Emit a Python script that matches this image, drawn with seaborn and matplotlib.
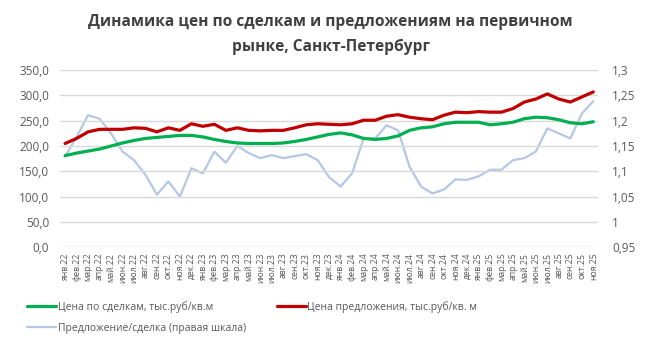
import pandas as pd
import matplotlib.pyplot as plt
import matplotlib.ticker as mticker
import seaborn as sns

months = ['янв.22', 'фев.22', 'мар.22', 'апр.22', 'май.22', 'июн.22', 'июл.22', 'авг.22',
          'сен.22', 'окт.22', 'ноя.22', 'дек.22', 'янв.23', 'фев.23', 'мар.23', 'апр.23',
          'май.23', 'июн.23', 'июл.23', 'авг.23', 'сен.23', 'окт.23', 'ноя.23', 'дек.23',
          'янв.24', 'фев.24', 'мар.24', 'апр.24', 'май.24', 'июн.24', 'июл.24', 'авг.24',
          'сен.24', 'окт.24', 'ноя.24', 'дек.24', 'янв.25', 'фев.25', 'мар.25', 'апр.25',
          'май.25', 'июн.25', 'июл.25', 'авг.25', 'сен.25', 'окт.25', 'ноя.25']

# тыс. руб/кв. м
deal_price = [181, 186, 190, 194, 200, 206, 211, 215, 217, 219, 221, 221, 218, 213, 209, 206,
              205, 205, 205, 206, 209, 213, 218, 223, 226, 222, 215, 213, 215, 220, 231, 236,
              238, 244, 247, 247, 247, 242, 244, 247, 254, 257, 256, 252, 246, 244, 248]
offer_price = [205, 215, 228, 233, 233, 233, 236, 235, 228, 236, 231, 244, 239, 243, 231, 236,
               231, 230, 231, 231, 236, 242, 244, 243, 242, 244, 251, 251, 259, 262, 257, 254,
               252, 261, 267, 266, 268, 267, 267, 274, 287, 293, 303, 293, 287, 297, 307]
# предложение/сделка (правая шкала)
ratio = [1.129, 1.168, 1.211, 1.204, 1.175, 1.139, 1.122, 1.093, 1.054, 1.080, 1.050, 1.106,
         1.096, 1.139, 1.117, 1.150, 1.136, 1.126, 1.132, 1.126, 1.130, 1.134, 1.122, 1.088,
         1.070, 1.096, 1.165, 1.165, 1.191, 1.181, 1.109, 1.070, 1.056, 1.064, 1.084, 1.083,
         1.090, 1.103, 1.103, 1.122, 1.126, 1.139, 1.185, 1.175, 1.165, 1.214, 1.239]

left_ticks = [0, 50, 100, 150, 200, 250, 300, 350]
right_ticks = [0.95, 1.0, 1.05, 1.1, 1.15, 1.2, 1.25, 1.3]

df = pd.DataFrame({'month': months, 'deal': deal_price, 'offer': offer_price, 'ratio': ratio})

sns.set_theme(style="white")
plt.rcParams['font.family'] = ['Open Sans', 'DejaVu Sans']

fig = plt.figure(figsize=(6.61, 3.51), dpi=100)
ax = fig.add_axes([0.091, 0.296, 0.814, 0.504])
ax2 = ax.twinx()

grid_c = '#d9d9d9'
text_c = '#595959'

sns.lineplot(data=df, x='month', y='ratio', ax=ax2, color='#b4c7e7', linewidth=1.6,
             label='Предложение/сделка (правая шкала)', legend=False)
sns.lineplot(data=df, x='month', y='deal', ax=ax, color='#00b050', linewidth=2.3,
             label='Цена по сделкам, тыс.руб/кв.м', legend=False)
sns.lineplot(data=df, x='month', y='offer', ax=ax, color='#c00000', linewidth=2.3,
             label='Цена предложения, тыс.руб/кв. м', legend=False)

# blue line sits behind the price lines
ax.set_zorder(2)
ax.patch.set_visible(False)
ax2.set_zorder(1)

ax.set_ylim(0, 350)
ax.set_yticks(left_ticks)
ax.yaxis.set_major_formatter(mticker.FuncFormatter(lambda v, p: f'{v:.1f}'.replace('.', ',')))
ax2.set_ylim(0.95, 1.3)
ax2.set_yticks(right_ticks)
ax2.yaxis.set_major_formatter(mticker.FuncFormatter(
    lambda v, p: (f'{v:.2f}'.rstrip('0').rstrip('.')).replace('.', ',')))

ax.set_xlim(-0.43, len(months) - 1 + 0.43)
ax.grid(axis='y', color=grid_c, linewidth=1)
ax.set_xlabel('')
ax.set_ylabel('')
ax2.set_ylabel('')
for a in (ax, ax2):
    for s in a.spines.values():
        s.set_visible(False)

ax.tick_params(axis='x', labelsize=6.2, colors=text_c, rotation=90, length=0, pad=4)
ax.tick_params(axis='y', labelsize=8.5, colors=text_c, length=0, pad=8)
ax2.tick_params(axis='y', labelsize=8.5, colors=text_c, length=0, pad=10)

fig.suptitle('Динамика цен по сделкам и предложениям на первичном\nрынке, Санкт-Петербург',
             x=0.5, y=0.96, fontsize=11.2, fontweight='bold', color='#404040', linespacing=1.7)

h1, l1 = ax.get_legend_handles_labels()
h2, l2 = ax2.get_legend_handles_labels()
# column-major fill: green / blue in the first column, red in the second
handles = [h1[0], h2[0], h1[1]]
labels = [l1[0], l2[0], l1[1]]
fig.legend(handles, labels, loc='upper left', bbox_to_anchor=(0.035, 0.155), ncol=2,
           frameon=False, fontsize=7.5, handlelength=2.8, handletextpad=0.1,
           columnspacing=3.0, labelcolor=text_c, borderaxespad=0, labelspacing=1.0)

plt.savefig('out.png', dpi=100)
